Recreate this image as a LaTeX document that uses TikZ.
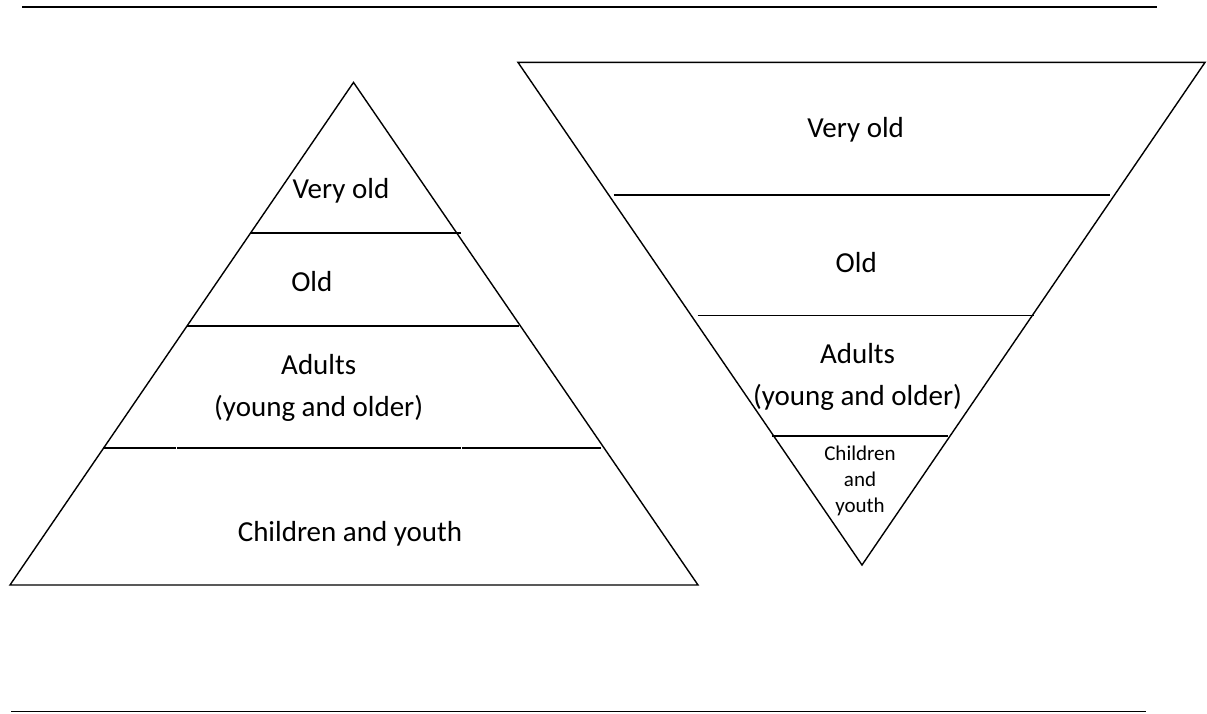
\documentclass[tikz,border=0pt]{standalone}
\usepackage{fontspec}
\setmainfont{Carlito}
\begin{document}
\begin{tikzpicture}[x=1pt,y=-1pt,
  side/.style={line width=1.4pt, line join=miter},
  band/.style={line width=1.9pt},
  toprule/.style={line width=2.6pt},
  botrule/.style={line width=1.5pt},
  lbl/.style={font=\fontsize{29}{42}\selectfont, align=center, inner sep=0pt},
  smalllbl/.style={font=\fontsize{21}{26}\selectfont, align=center, inner sep=0pt}]
\useasboundingbox (0,0) rectangle (1207,713);

% page rules
\draw[toprule] (22,7) -- (1157,7);
\draw[botrule] (11,711.5) -- (1146,711.5);

% upright pyramid
\coordinate (LA) at (353.5,82.4);
\coordinate (LL) at (10,585);
\coordinate (LR) at (698,585);
\draw[side] (LA) -- (LR) -- (LL) -- cycle;
\draw[band] (250.2,232.9) -- (461.4,232.9);
\draw[band] (187.3,326.2) -- (518.8,326.2);
\draw[band] (103.3,448.4) -- (175.6,448.4);
\draw[band] (176.8,448.4) -- (460.9,448.4);
\draw[band] (462.3,448.4) -- (600.6,448.4);

\node[lbl] (lveryold) at (341,190.9) {Very old};
\node[lbl] (lold) at (311.8,282) {Old};
\node[lbl] (ladults) at (318.7,387.5) {Adults\\(young and older)};
\node[lbl] (lchildren) at (350,533.5) {Children and youth};

% inverted pyramid
\coordinate (RL) at (518,62.4);
\coordinate (RR) at (1205,62.4);
\coordinate (RB) at (862,565);
\draw[side] (RL) -- (RR) -- (RB) -- cycle;
\draw[band] (613.6,195) -- (1109.6,195);
\draw[band] (697.5,315.5) -- (1034.3,315.5);
\draw[band] (771.9,436) -- (947.7,436);

\node[lbl] (rveryold) at (855.7,129.5) {Very old};
\node[lbl] (rold) at (856.2,263) {Old};
\node[lbl] (radults) at (857.5,376.5) {Adults\\(young and older)};
\node[smalllbl] (rchildren) at (860,481) {Children\\and\\youth};
\end{tikzpicture}
\end{document}
